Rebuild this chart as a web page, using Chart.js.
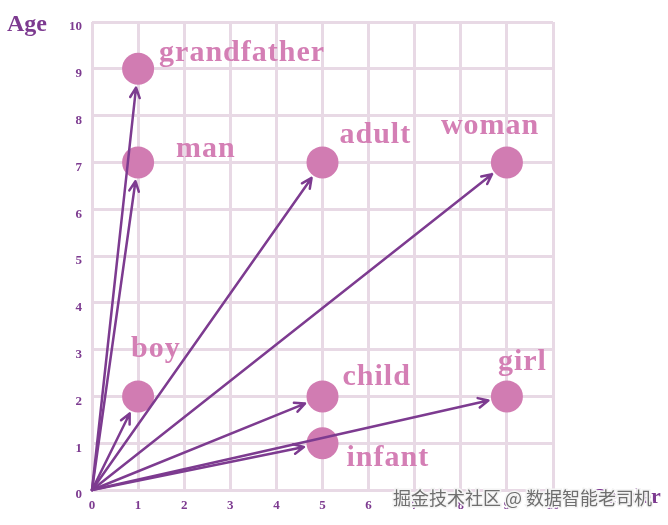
<!DOCTYPE html>
<html>
<head>
<meta charset="utf-8">
<script src="https://cdn.jsdelivr.net/npm/chart.js@4.4.1/dist/chart.umd.min.js"></script>
<style>
    html, body { margin:0; padding:0; background:#fff; }
    #wrap { width:668px; height:525px; position:relative; }
</style>
</head>
<body>
<div id="wrap"><canvas id="vecChart"></canvas></div>
<script>
const words = ['grandfather', 'man', 'adult', 'woman', 'boy', 'child', 'girl', 'infant'];
const gender = [1, 1, 5, 9, 1, 5, 9, 5];
const age = [9, 7, 7, 7, 2, 2, 2, 1];
const tickValues = [0, 1, 2, 3, 4, 5, 6, 7, 8, 9, 10];

const purple = '#7d3b90';
const pink = '#d17cb2';
const labelPink = '#d47fb5';

// label placement relative to the dot centre (pixels)
const labelOffset = {
    grandfather: [21, -8], man: [38, -5], adult: [17, -19], woman: [-66, -28],
    boy: [-7, -39], child: [20, -11], girl: [-9, -26], infant: [24, 23]
};

const arrowPlugin = {
    id: 'arrows',
    afterDatasetsDraw(chart) {
        const ctx = chart.ctx;
        const xs = chart.scales.x, ys = chart.scales.y;
        const ox = xs.getPixelForValue(0), oy = ys.getPixelForValue(0);
        ctx.save();
        ctx.strokeStyle = purple;
        ctx.lineWidth = 2.5;
        ctx.lineCap = 'round';
        ctx.lineJoin = 'round';
        words.forEach((w, i) => {
            const tx = xs.getPixelForValue(gender[i]);
            const ty = ys.getPixelForValue(age[i]);
            const dx = tx - ox, dy = ty - oy;
            const len = Math.hypot(dx, dy);
            const ux = dx / len, uy = dy / len;
            const ex = tx - ux * 19, ey = ty - uy * 19;
            ctx.beginPath();
            ctx.moveTo(ox, oy);
            ctx.lineTo(ex, ey);
            const a = Math.atan2(uy, ux);
            [0.45, -0.45].forEach(d => {
                ctx.moveTo(ex, ey);
                ctx.lineTo(ex - 11 * Math.cos(a + d), ey - 11 * Math.sin(a + d));
            });
            ctx.stroke();
        });
        ctx.restore();
    },
    afterDraw(chart) {
        const ctx = chart.ctx;
        const xs = chart.scales.x, ys = chart.scales.y;
        ctx.save();
        ctx.textAlign = 'left';
        ctx.textBaseline = 'alphabetic';
        ctx.fillStyle = labelPink;
        ctx.font = 'bold 30px "Liberation Serif"';
        ctx.letterSpacing = '1px';
        words.forEach((w, i) => {
            const px = xs.getPixelForValue(gender[i]);
            const py = ys.getPixelForValue(age[i]);
            const off = labelOffset[w];
            ctx.fillText(w, px + off[0], py + off[1]);
        });
        ctx.letterSpacing = '0px';
        ctx.fillStyle = purple;
        ctx.font = 'bold 24px "Liberation Serif"';
        ctx.fillText('Age', 7, 31);
        ctx.font = 'bold 22px "Liberation Serif"';
        ctx.fillText('Gender', 590, 503);
        // watermark
        ctx.font = '18px "Noto Sans CJK SC"';
        ctx.lineWidth = 3;
        ctx.strokeStyle = '#f4f4f4';
        ctx.fillStyle = '#6f6f6f';
        ctx.strokeText('掘金技术社区 @ 数据智能老司机', 393, 505);
        ctx.fillText('掘金技术社区 @ 数据智能老司机', 393, 505);
        ctx.restore();
    }
};

new Chart(document.getElementById('vecChart'), {
    type: 'scatter',
    data: {
        datasets: [{
            data: words.map((w, i) => ({ x: gender[i], y: age[i] })),
            backgroundColor: pink,
            borderWidth: 0,
            pointRadius: 16,
            pointHoverRadius: 16
        }]
    },
    options: {
        responsive: true,
        maintainAspectRatio: false,
        animation: false,
        layout: { padding: { top: 22, right: 115, left: 0, bottom: 0 } },
        plugins: { legend: { display: false }, tooltip: { enabled: false } },
        scales: {
            x: {
                type: 'linear', min: 0, max: 10,
                afterBuildTicks: s => { s.ticks = tickValues.map(v => ({ value: v })); },
                afterFit: s => { s.height = 35; },
                grid: { color: '#e8d9e5', lineWidth: 3, drawTicks: false },
                border: { display: false },
                ticks: { color: purple, padding: 8, font: { family: 'Liberation Serif', weight: 'bold', size: 13 } }
            },
            y: {
                type: 'linear', min: 0, max: 10,
                afterBuildTicks: s => { s.ticks = tickValues.map(v => ({ value: v })); },
                afterFit: s => { s.width = 92; },
                grid: { color: '#e8d9e5', lineWidth: 3, drawTicks: false },
                border: { display: false },
                ticks: { color: purple, padding: 10, labelOffset: 5, font: { family: 'Liberation Serif', weight: 'bold', size: 13 } }
            }
        }
    },
    plugins: [arrowPlugin]
});
</script>
</body>
</html>
